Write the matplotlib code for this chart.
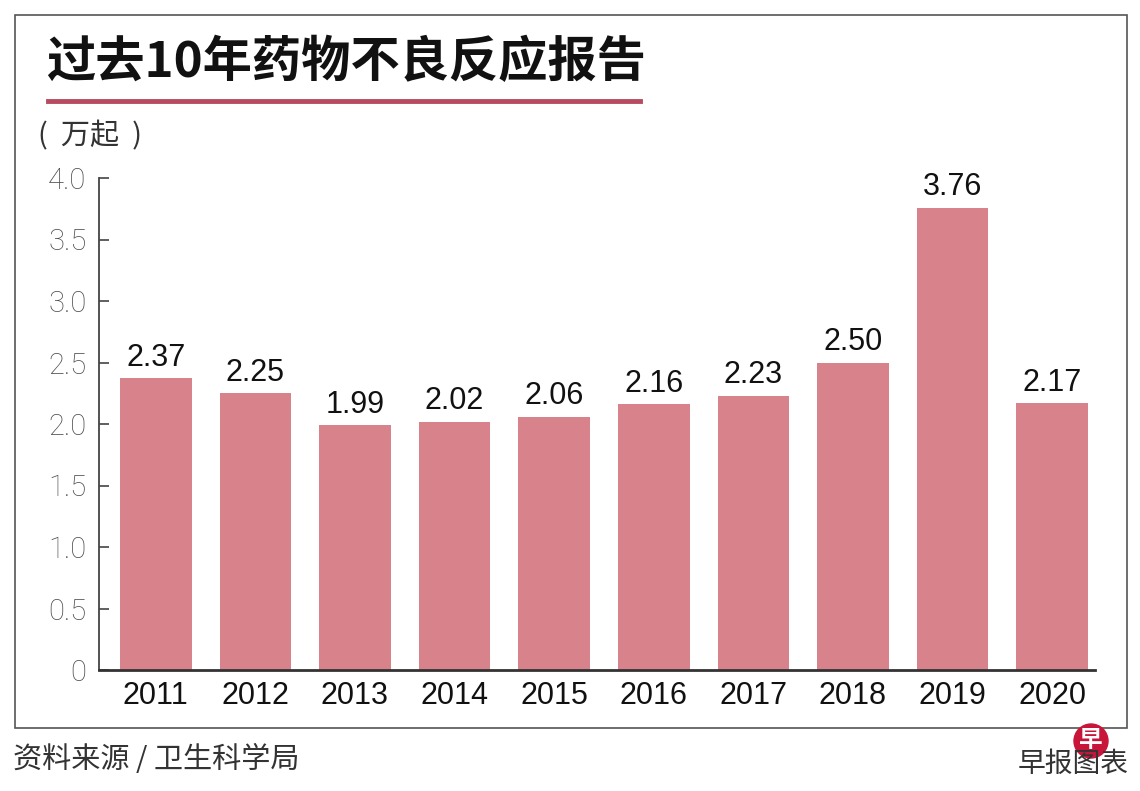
import matplotlib.pyplot as plt
from matplotlib.lines import Line2D
from matplotlib.patches import Rectangle, Ellipse

plt.rcParams['font.family'] = ['Liberation Sans', 'Noto Sans CJK SC', 'DejaVu Sans']

# data
years = ['2011', '2012', '2013', '2014', '2015', '2016', '2017', '2018', '2019', '2020']
reports = [2.37, 2.25, 1.99, 2.02, 2.06, 2.16, 2.23, 2.50, 3.76, 2.17]
yticks = [0, 0.5, 1.0, 1.5, 2.0, 2.5, 3.0, 3.5, 4.0]
ytick_labels = ['0', '0.5', '1.0', '1.5', '2.0', '2.5', '3.0', '3.5', '4.0']

title = '过去10年药物不良反应报告'
unit = '(  万起  )'
source = '资料来源 / 卫生科学局'
credit = '早报图表'

W, H = 1140, 791
fig = plt.figure(figsize=(W / 100, H / 100), dpi=100)

# outer frame
fig.patches.append(Rectangle((15 / W, 1 - 728 / H), 1112 / W, 713 / H,
                             transform=fig.transFigure, fill=False,
                             edgecolor='#555555', linewidth=1.2))

# title + red underline
fig.text(46 / W, 1 - 63 / H, title, fontsize=35.5, fontweight='heavy',
         family=['Noto Sans CJK SC'], color='#111111', ha='left', va='center')
fig.add_artist(Line2D([48 / W, 640 / W], [1 - 101 / H, 1 - 101 / H],
                      transform=fig.transFigure, color='#b84a60', linewidth=3.5))

fig.text(38 / W, 1 - 136 / H, unit, fontsize=21, family=['Noto Sans CJK SC'],
         color='#333333', ha='left', va='center')

# bars
ax = fig.add_axes([99 / W, 1 - 670 / H, 996 / W, 492 / H])
x = range(len(years))
bars = ax.bar(x, reports, width=0.72, color='#d8828c')
ax.bar_label(bars, labels=[f'{v:.2f}' for v in reports], padding=4,
             fontsize=22, color='#111111')

ax.set_xlim(-0.57, 9.43)
ax.set_ylim(0, 4.0)
ax.set_xticks(list(x))
ax.set_xticklabels(years, fontsize=22, color='#111111')
ax.set_yticks(yticks)
ax.set_yticklabels(ytick_labels, fontsize=21, color='#4a4a4a',
                   family=['Roboto', 'Liberation Sans'], fontweight='light')

ax.tick_params(axis='x', length=0, pad=8)
ax.tick_params(axis='y', direction='in', length=7, width=1.2, color='#444444', pad=9)

for side in ['top', 'right']:
    ax.spines[side].set_visible(False)
ax.spines['left'].set_color('#444444')
ax.spines['left'].set_linewidth(1.3)
ax.spines['bottom'].set_color('#333333')
ax.spines['bottom'].set_linewidth(2)

# footer
fig.text(13 / W, 1 - 760 / H, source, fontsize=21, family=['Noto Sans CJK SC'],
         color='#333333', ha='left', va='center')
fig.text(1129 / W, 1 - 764 / H, credit, fontsize=20, family=['Noto Sans CJK SC'],
         color='#333333', ha='right', va='center')
# red logo dot
fig.patches.append(Ellipse((1091 / W, 1 - 741 / H), 34 / W, 34 / H,
                           transform=fig.transFigure, color='#c8163a'))
fig.text(1091 / W, 1 - 740 / H, '早', fontsize=17, fontweight='bold',
         family=['Noto Sans CJK SC'], color='white', ha='center', va='center')

fig.savefig('out.png', dpi=100)
